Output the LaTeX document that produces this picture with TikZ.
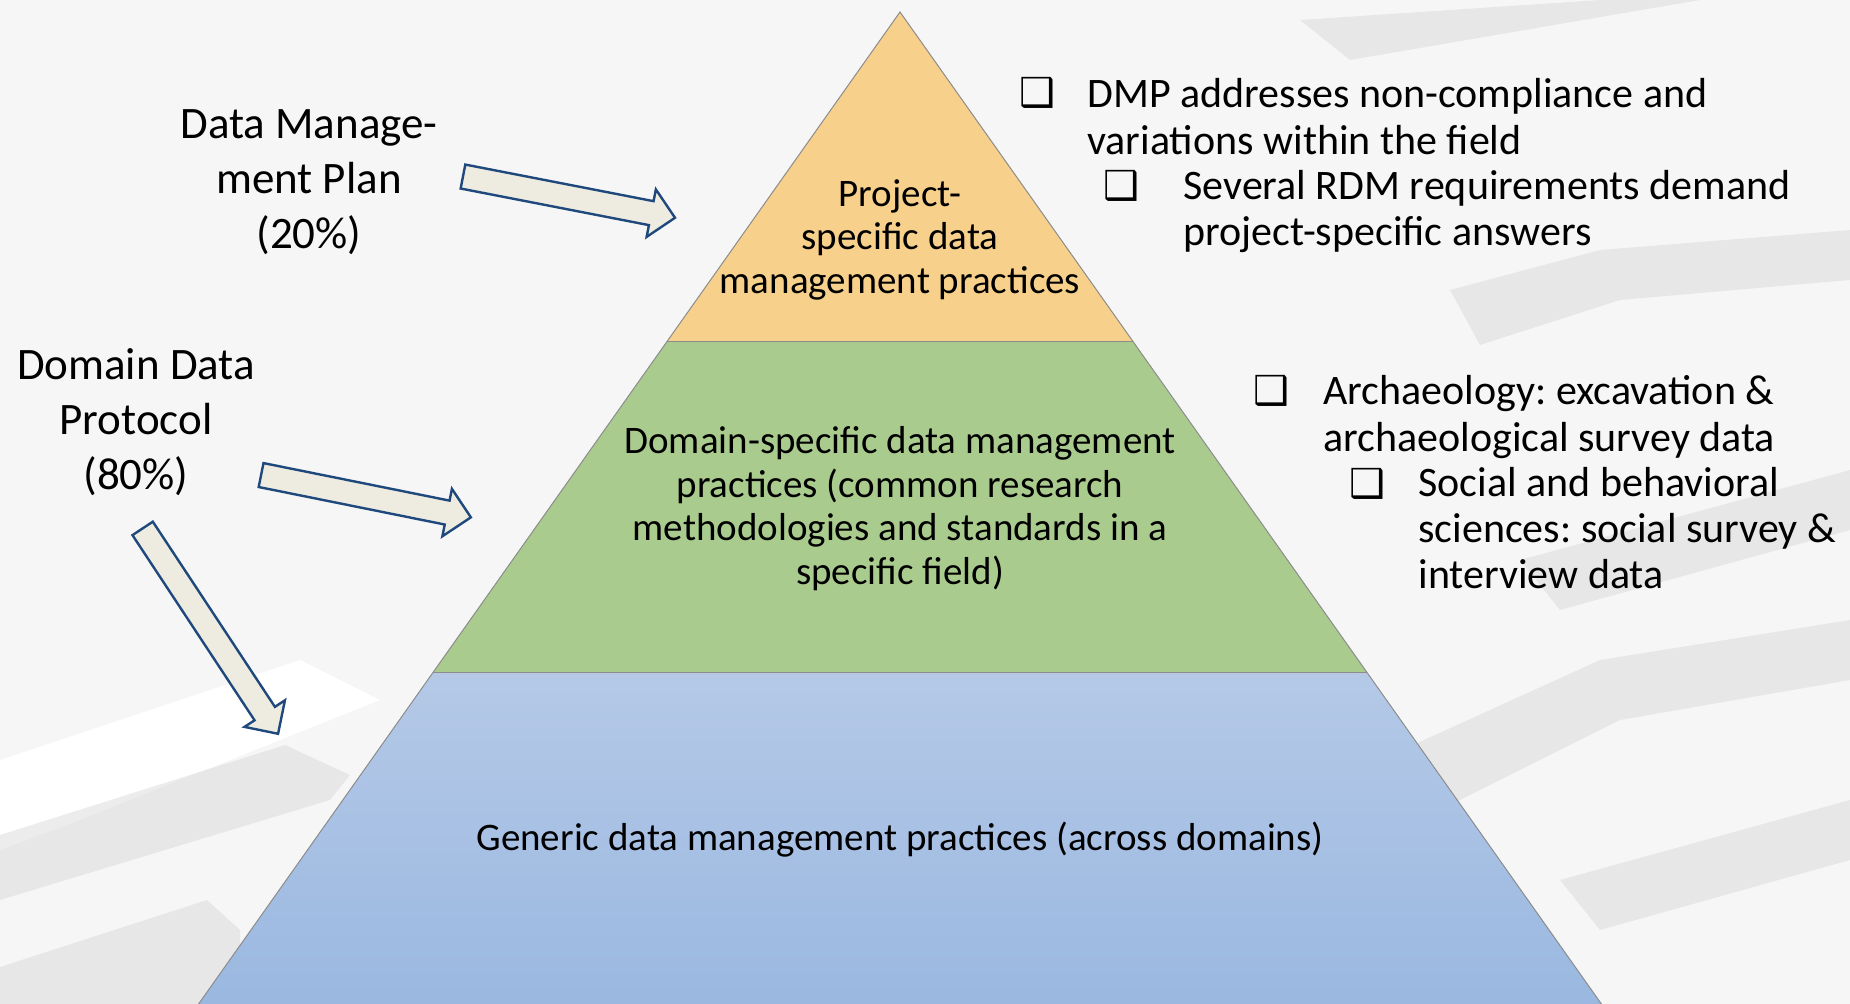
\documentclass[tikz,border=0pt]{standalone}
\usepackage{fontspec}
\setmainfont{Carlito}
\newfontfamily\symfont{DejaVu Sans}
\usetikzlibrary{shapes.arrows}
\frenchspacing
\definecolor{projcol}{HTML}{F7D08C}
\definecolor{domcol}{HTML}{AACB8E}
\definecolor{gentop}{HTML}{B5C9E7}
\definecolor{genbot}{HTML}{9AB8E0}
\definecolor{arrfill}{HTML}{EEECE1}
\definecolor{arrline}{HTML}{1F497D}
\definecolor{mazebg}{HTML}{F6F6F6}
\definecolor{mazeshade}{HTML}{DADADA}

\begin{document}
\begin{tikzpicture}[x=0.5pt,y=-0.5pt,
    layertext/.style={align=center,text=black,inner sep=0pt,
      font=\fontsize{19.5}{21.75}\selectfont},
    sidelabel/.style={align=center,inner sep=0pt,
      font=\fontsize{22.5}{27.5}\selectfont},
    bullettext/.style={anchor=west,align=left,inner sep=0pt,
      font=\fontsize{21}{23.2}\selectfont},
    chkbox/.style={inner sep=0pt,font=\symfont\fontsize{20}{20}\selectfont},
    blockarrow/.style={single arrow,draw=arrline,fill=arrfill,line width=1.2pt,
      inner xsep=0pt,inner ysep=5.5pt,minimum width=23.5pt,single arrow head extend=6pt},
    layer/.style={draw=black!45,line width=0.5pt},
    mazeband/.style={fill=mazeshade,opacity=0.5}]

  % background (maze)
  \fill[mazebg] (0,0) rectangle (1850,1004);
  \fill[white] (0,760) -- (300,660) -- (380,700) -- (80,820) -- (0,850) -- cycle;
  \fill[mazeband] (0,835) -- (285,745) -- (350,775) -- (330,800) -- (0,900) -- cycle;
  \fill[mazeband] (0,967) -- (207,900) -- (240,930) -- (240,1004) -- (0,1004) -- cycle;
  \fill[mazeband] (1380,760) -- (1600,660) -- (1850,620) -- (1850,680) -- (1620,720) -- (1420,820) -- cycle;
  \fill[mazeband] (1520,560) -- (1850,470) -- (1850,530) -- (1560,610) -- cycle;
  \fill[mazeband] (1450,290) -- (1600,250) -- (1850,230) -- (1850,280) -- (1620,300) -- (1480,345) -- cycle;
  \fill[mazeband] (1560,880) -- (1850,800) -- (1850,860) -- (1600,930) -- cycle;
  \fill[mazeband] (1300,20) -- (1600,0) -- (1700,0) -- (1350,60) -- cycle;
  \useasboundingbox (0,0) rectangle (1850,1004);

  % pyramid
  \fill[projcol] (900,12) -- (1133.3,342) -- (666.7,342) -- cycle;
  \fill[domcol] (666.7,342) -- (1133.3,342) -- (1366.7,672) -- (433.3,672) -- cycle;
  \shade[top color=gentop,bottom color=genbot] (433.3,672) -- (1366.7,672) -- (1601.4,1004) -- (198.6,1004) -- cycle;
  \draw[layer] (198.6,1004) -- (900,12) -- (1601.4,1004);
  \draw[layer] (666.7,342) -- (1133.3,342);
  \draw[layer] (433.3,672) -- (1366.7,672);

  \node[layertext] (proj) at (900,239.5) {Project-\\specific data\\management practices};
  \node[layertext] (dom) at (900,508.5) {Domain-specific data management\\practices (common research\\methodologies and standards in a\\specific field)};
  \node[layertext] (gen) at (900,840) {Generic data management practices (across domains)};

  % left labels
  \node[sidelabel] (dmp) at (309,182) {Data Manage-\\ment Plan\\(20\%)};
  \node[sidelabel] (ddp) at (136,422.5) {Domain Data\\Protocol\\(80\%)};

  \node[blockarrow,minimum height=108pt,rotate=-11] (arrdmp) at (563,196) {};
  \node[blockarrow,minimum height=107pt,rotate=-11.4] (arrddp) at (360,495) {};
  \node[blockarrow,minimum height=123pt,rotate=-56.6] (arrgen) at (207,626) {};

  % right bullets
  \node[chkbox] (c1) at (1037,93) {❑};
  \node[bullettext] (b1) at (1087,116.5) {DMP addresses non-compliance and\\variations within the field};
  \node[chkbox] (c2) at (1121,186) {❑};
  \node[bullettext] (b2) at (1183,211.5) {Several RDM requirements demand\\project-specific answers};

  \node[chkbox] (c3) at (1271,391) {❑};
  \node[bullettext] (b3) at (1323,417) {Archaeology: excavation \&\\archaeological survey data};
  \node[chkbox] (c4) at (1367,484) {❑};
  \node[bullettext] (b4) at (1418,528) {Social and behavioral\\sciences: social survey \&\\interview data};
\end{tikzpicture}
\end{document}
